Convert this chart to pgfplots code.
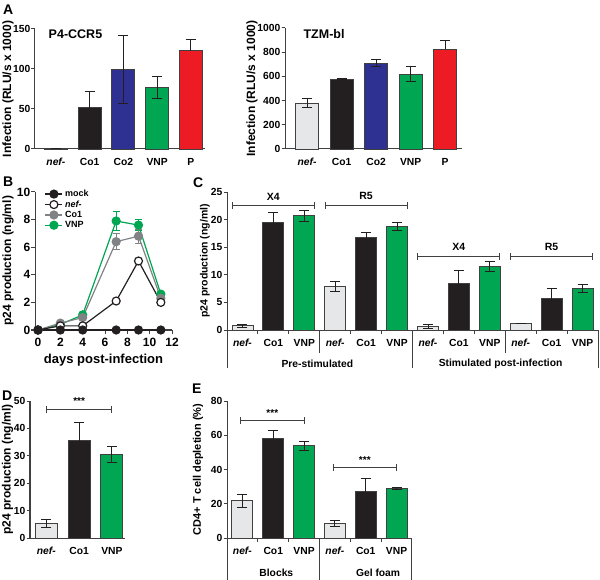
\documentclass[border=0pt]{standalone}
\usepackage{fontspec}
\setmainfont{Liberation Sans}
\usepackage{pgfplots}
\pgfplotsset{compat=1.18}
\definecolor{gpblack}{HTML}{231F20}
\definecolor{gpblue}{HTML}{2E3192}
\definecolor{gpgreen}{HTML}{00A651}
\definecolor{gpred}{HTML}{ED1C24}
\definecolor{gplight}{HTML}{E6E7E8}
\definecolor{gpgray}{HTML}{808285}
\definecolor{gpline}{HTML}{404041}
\newcommand\fs[1]{\fontsize{#1}{#1}\selectfont\bfseries}
\newcommand\brk[3]{\draw[line width=1pt, gpline] (axis cs:#1,#3) -- (axis cs:#2,#3);
  \draw[line width=1pt, gpline] ([yshift=-3.5pt]axis cs:#1,#3) -- ([yshift=3.5pt]axis cs:#1,#3);
  \draw[line width=1pt, gpline] ([yshift=-3.5pt]axis cs:#2,#3) -- ([yshift=3.5pt]axis cs:#2,#3);}
\newcommand\sep[2]{\draw[line width=1pt, gpline] (axis cs:#1,0) -- ([yshift=-#2]axis cs:#1,0);}
\pgfplotsset{
  gp/.style={
    scale only axis, clip=false,
    axis x line*=bottom, axis y line*=left,
    axis line style={line width=1pt, draw=gpline},
    tick align=outside, major tick length=3.5pt, minor tick length=4pt,
    every tick/.style={line width=1pt, draw=gpline},
    /pgf/number format/assume math mode=true,
    /pgf/number format/1000 sep={},
    ymin=0,
    ylabel style={font=\fs{12}, anchor=center},
    xlabel style={font=\fs{13}},
    tick label style={font=\fs{10.3}},
    yticklabel style={inner xsep=1pt},
    xticklabel style={yshift=-2.5pt},
  },
  nox/.style={major x tick style={draw=none}},
  bb/.style={ybar, bar shift=0pt, bar width=#1, draw=gpline, line width=0.9pt,
    error bars/y dir=both, error bars/y explicit,
    error bars/error bar style={line width=0.9pt, draw=gpblack, solid},
    error bars/error mark options={rotate=90, line width=0.9pt, draw=gpblack, mark size=5pt}},
  bb/.default=22pt,
  ln/.style={line width=1.2pt, mark=*, mark size=4pt, mark options={solid},
    error bars/y dir=both, error bars/y explicit,
    error bars/error bar style={line width=1pt},
    error bars/error mark options={rotate=90, line width=1pt, mark size=3.5pt}},
}
\begin{document}
\begin{tikzpicture}
\path[use as bounding box] (0,0) rectangle (600pt,-580pt);

% ---------------- A left
\begin{axis}[gp, nox, at={(35pt,-149pt)}, anchor=south west, width=170pt, height=120pt,
  xmin=-0.62, xmax=4.42, ymax=150, ytick={0,50,100,150},
  xtick={0,...,4}, xticklabels={\textit{nef-},Co1,Co2,VNP,P},
  ylabel={Infection (RLU/s x 1000)},
  ylabel style={at={(axis description cs:-0.159,0.5)}}]
\addplot[bb=23pt, fill=gplight] coordinates {(0,0.8) +- (0,0)};
\addplot[bb=23pt, fill=gpblack] coordinates {(1,52.5) +- (0,20)};
\addplot[bb=23pt, fill=gpblue] coordinates {(2,99.5) +- (0,42)};
\addplot[bb=23pt, fill=gpgreen] coordinates {(3,77) +- (0,14)};
\addplot[bb=23pt, fill=gpred, error bars/y dir=plus] coordinates {(4,123) +- (0,13.5)};
\node[anchor=west, font=\fs{12.5}] at (rel axis cs:0.06,0.96) {P4-CCR5};
\end{axis}

% ---------------- A right
\begin{axis}[gp, nox, at={(285pt,-149pt)}, anchor=south west, width=177pt, height=121pt,
  xmin=-0.64, xmax=4.49, ymax=1000, ytick={0,200,...,1000},
  xtick={0,...,4}, xticklabels={\textit{nef-},Co1,Co2,VNP,P},
  ylabel={Infection (RLU/s x 1000)},
  ylabel style={at={(axis description cs:-0.186,0.5)}}]
\addplot[bb=23pt, fill=gplight] coordinates {(0,380) +- (0,35)};
\addplot[bb=23pt, fill=gpblack] coordinates {(1,578) +- (0,3)};
\addplot[bb=23pt, fill=gpblue] coordinates {(2,711) +- (0,25)};
\addplot[bb=23pt, fill=gpgreen] coordinates {(3,620) +- (0,60)};
\addplot[bb=23pt, fill=gpred, error bars/y dir=plus] coordinates {(4,826) +- (0,75)};
\node[anchor=west, font=\fs{12.5}] at (rel axis cs:0.085,0.95) {TZM-bl};
\end{axis}

% ---------------- B
\begin{axis}[gp, at={(35pt,-330pt)}, anchor=south west, width=137pt, height=138pt,
  xmin=-0.27, xmax=12, ymax=10, xtick={0,2,...,12}, ytick={0,2,...,10},
  tick label style={font=\fs{12}},
  xticklabel style={yshift=1pt},
  xlabel={days post-infection},
  ylabel={p24 production (ng/ml)},
  ylabel style={at={(axis description cs:-0.197,0.5)}},
  reverse legend,
  legend cell align=left,
  legend style={at={(0.07,1.03)}, anchor=north west, draw=none, fill=none,
    font=\fs{9}, row sep=-1.5pt, inner sep=0pt}]
\addplot[ln, color=gpgreen] coordinates {(0,0) +- (0,0) (2,0.4) +- (0,0) (4,1.1) +- (0,0) (7,7.9) +- (0,0.7) (9,7.6) +- (0,0.4) (11,2.6) +- (0,0)};
\addlegendentry{VNP}
\addplot[ln, color=gpgray] coordinates {(0,0) +- (0,0) (2,0.5) +- (0,0) (4,0.9) +- (0,0) (7,6.4) +- (0,0.6) (9,6.8) +- (0,0.5) (11,2.3) +- (0,0)};
\addlegendentry{Co1}
\addplot[ln, color=gpblack, mark options={fill=white, draw=gpblack}] coordinates {(0,0) +- (0,0) (2,0.3) +- (0,0) (4,0.3) +- (0,0) (7,2.1) +- (0,0) (9,5.0) +- (0,0) (11,2.0) +- (0,0)};
\addlegendentry{\textit{nef-}}
\addplot[ln, color=gpblack] coordinates {(0,0) +- (0,0) (2,0) +- (0,0) (4,0) +- (0,0) (7,0) +- (0,0) (9,0) +- (0,0) (11,0) +- (0,0)};
\addlegendentry{mock}
\end{axis}

% ---------------- C
\begin{axis}[gp, at={(227pt,-330pt)}, anchor=south west, width=371pt, height=138pt,
  xmin=-0.5, xmax=11.5, ymax=25, ytick={0,5,...,25},
  xtick={0,...,11},
  xticklabels={\textit{nef-},Co1,VNP,\textit{nef-},Co1,VNP,\textit{nef-},Co1,VNP,\textit{nef-},Co1,VNP},
  major x tick style={draw=none},
  minor xtick={0.5,1.5,3.5,4.5,6.5,7.5,9.5,10.5},
  ylabel={p24 production (ng/ml)},
  ylabel style={font=\fs{10.5}, at={(axis description cs:-0.0593,0.5)}}]
\addplot[bb=21pt, fill=gplight] coordinates {(0,0.75) +- (0,0.2) (3,7.9) +- (0,0.9) (6,0.6) +- (0,0.4) (9,1.2) +- (0,0)};
\addplot[bb=21pt, fill=gpblack] coordinates {(1,19.4) +- (0,1.9) (4,16.7) +- (0,0.9) (7,8.5) +- (0,2.2) (10,5.7) +- (0,1.85)};
\addplot[bb=21pt, fill=gpgreen] coordinates {(2,20.7) +- (0,1.0) (5,18.7) +- (0,0.7) (8,11.5) +- (0,0.9) (11,7.55) +- (0,0.7)};
\brk{-0.33}{2.33}{22.6}
\brk{2.67}{5.33}{22.6}
\brk{5.67}{8.33}{13.4}
\brk{8.67}{11.33}{13.4}
\node[font=\fs{10.5}] at (axis cs:1,24.2) {X4};
\node[font=\fs{10.5}] at (axis cs:4,24.2) {R5};
\node[font=\fs{10.5}] at (axis cs:7,15.0) {X4};
\node[font=\fs{10.5}] at (axis cs:10,15.0) {R5};
\sep{2.5}{23pt}
\sep{8.5}{23pt}
\sep{-0.5}{38pt}
\sep{5.5}{38pt}
\sep{11.5}{38pt}
\node[font=\fs{10.3}] at ([yshift=-33.5pt]axis cs:2.42,0) {Pre-stimulated};
\node[font=\fs{10.3}] at ([yshift=-33.5pt]axis cs:8.35,0) {Stimulated post-infection};
\end{axis}

% ---------------- D
\begin{axis}[gp, nox, at={(30pt,-538pt)}, anchor=south west, width=95pt, height=137pt,
  xmin=-0.5, xmax=2.4, ymax=50, ytick={0,10,...,50},
  xtick={0,1,2}, xticklabels={\textit{nef-},Co1,VNP},
  ylabel={p24 production (ng/ml)},
  ylabel style={at={(axis description cs:-0.237,0.5)}}]
\addplot[bb=22pt, fill=gplight] coordinates {(0,5.4) +- (0,1.4)};
\addplot[bb=22pt, fill=gpblack] coordinates {(1,35.5) +- (0,6.6)};
\addplot[bb=22pt, fill=gpgreen] coordinates {(2,30.5) +- (0,2.8)};
\brk{0}{2}{47}
\node[font=\fs{10}, anchor=south] at (axis cs:1,47.3) {***};
\end{axis}

% ---------------- E
\begin{axis}[gp, at={(227pt,-538pt)}, anchor=south west, width=185pt, height=137pt,
  xmin=-0.5, xmax=5.5, ymax=80, ytick={0,20,...,80},
  xtick={0,...,5},
  xticklabels={\textit{nef-},Co1,VNP,\textit{nef-},Co1,VNP},
  major x tick style={draw=none},
  minor xtick={0.5,1.5,3.5,4.5},
  ylabel={CD4+ T cell depletion (\%)},
  ylabel style={font=\fs{11}, at={(axis description cs:-0.157,0.5)}}]
\addplot[bb=21pt, fill=gplight] coordinates {(0,21.8) +- (0,3.8) (3,8.6) +- (0,1.6)};
\addplot[bb=21pt, fill=gpblack] coordinates {(1,58.3) +- (0,4.3) (4,27.1) +- (0,7.8)};
\addplot[bb=21pt, fill=gpgreen] coordinates {(2,53.8) +- (0,2.4) (5,29.0) +- (0,0.8)};
\brk{-0.06}{2}{68.4}
\brk{2.94}{5}{41.4}
\node[font=\fs{10}, anchor=south] at (axis cs:0.97,68.6) {***};
\node[font=\fs{10}, anchor=south] at (axis cs:3.97,41.6) {***};
\sep{-0.5}{42pt}
\sep{2.5}{42pt}
\sep{5.5}{42pt}
\node[font=\fs{10.3}] at ([yshift=-35pt]axis cs:1.1,0) {Blocks};
\node[font=\fs{10.3}] at ([yshift=-35pt]axis cs:4.4,0) {Gel foam};
\end{axis}

% panel letters
\node[font=\fs{14}, anchor=base west, inner sep=0pt] at (3pt,-15pt) {A};
\node[font=\fs{14}, anchor=base west, inner sep=0pt] at (3pt,-187pt) {B};
\node[font=\fs{14}, anchor=base west, inner sep=0pt] at (193pt,-188pt) {C};
\node[font=\fs{14}, anchor=base west, inner sep=0pt] at (2pt,-400pt) {D};
\node[font=\fs{14}, anchor=base west, inner sep=0pt] at (192pt,-393pt) {E};
\end{tikzpicture}
\end{document}
